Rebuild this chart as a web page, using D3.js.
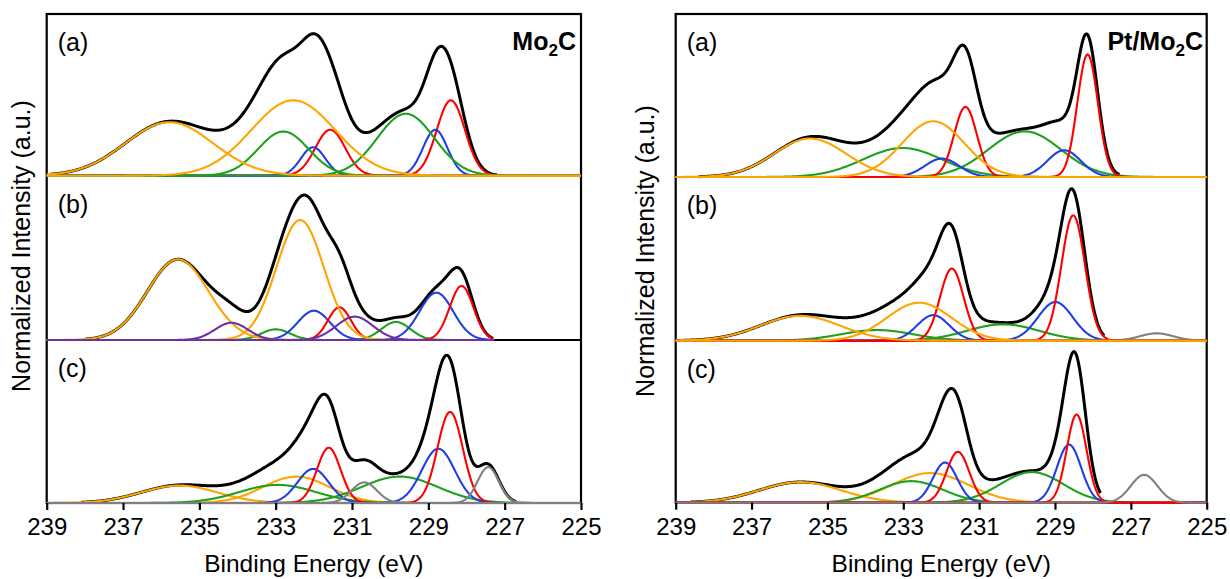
<!DOCTYPE html>
<html><head><meta charset="utf-8">
<script src="https://cdn.jsdelivr.net/npm/d3@7"></script>
<style>
body{margin:0;background:#fff}
text{font-family:"Liberation Sans",Arial,Helvetica,sans-serif;fill:#000}
</style>
</head><body>
<svg id="chart" width="1230" height="579"></svg>
<script>
// ---------------- DATA ----------------
const energyTicks = [239, 237, 235, 233, 231, 229, 227, 225];
const energyDomain = [239, 225];
const subLabels = ["(a)", "(b)", "(c)"];
const yTitle = "Normalized Intensity (a.u.)";
const xTitle = "Binding Energy (eV)";
const species = ["Mo0", "Mo2+", "Mo3+", "Mo4+", "Mo5+", "Mo6+"];

// Fitted peak components: species, centre (eV), height (normalized), gaussian sigma (eV)
// Mo2C (a)
const mo2cA_species = ["Mo2+", "Mo2+", "Mo3+", "Mo3+", "Mo4+", "Mo4+", "Mo6+", "Mo6+"];
const mo2cA_center  = [231.57, 228.41, 232.02, 228.82, 232.80, 229.59, 235.79, 232.54];
const mo2cA_height  = [0.284, 0.466, 0.176, 0.284, 0.273, 0.383, 0.331, 0.466];
const mo2cA_sigma   = [0.39, 0.37, 0.32, 0.32, 0.66, 0.75, 1.15, 1.10];
const mo2cA_range   = [238.9, 227.2];
// Mo2C (b)
const mo2cB_species = ["Mo4+", "Mo4+", "Mo3+", "Mo3+", "Mo2+", "Mo2+", "Mo6+", "Mo6+", "Mo5+", "Mo5+"];
const mo2cB_center  = [233.00, 229.85, 232.00, 228.79, 231.33, 228.13, 235.56, 232.36, 234.16, 230.93];
const mo2cB_height  = [0.065, 0.110, 0.178, 0.288, 0.199, 0.329, 0.491, 0.730, 0.105, 0.142];
const mo2cB_sigma   = [0.38, 0.38, 0.42, 0.44, 0.30, 0.31, 0.80, 0.62, 0.43, 0.48];
const mo2cB_range   = [238.0, 227.3];
// Mo2C (c)
const mo2cC_species = ["Mo6+", "Mo6+", "Mo4+", "Mo4+", "Mo3+", "Mo3+", "Mo2+", "Mo2+", "Mo0", "Mo0"];
const mo2cC_center  = [235.53, 232.46, 232.95, 229.75, 232.02, 228.74, 231.61, 228.43, 230.68, 227.43];
const mo2cC_height  = [0.107, 0.162, 0.111, 0.162, 0.209, 0.333, 0.339, 0.559, 0.127, 0.220];
const mo2cC_sigma   = [1.00, 0.87, 1.00, 1.00, 0.41, 0.43, 0.31, 0.33, 0.33, 0.28];
const mo2cC_range   = [238.1, 226.7];
// Pt/Mo2C (a)
const ptA_species = ["Mo4+", "Mo4+", "Mo3+", "Mo3+", "Mo2+", "Mo2+", "Mo6+", "Mo6+"];
const ptA_center  = [233.02, 229.80, 231.98, 228.76, 231.36, 228.14, 235.46, 232.21];
const ptA_height  = [0.178, 0.280, 0.113, 0.164, 0.430, 0.752, 0.236, 0.342];
const ptA_sigma   = [1.04, 0.95, 0.45, 0.44, 0.30, 0.27, 0.95, 0.82];
const ptA_range   = [238.4, 227.3];
// Pt/Mo2C (b)
const ptB_species = ["Mo0", "Mo4+", "Mo4+", "Mo3+", "Mo3+", "Mo2+", "Mo2+", "Mo6+", "Mo6+"];
const ptB_center  = [226.32, 233.69, 230.37, 232.21, 228.99, 231.72, 228.52, 235.72, 232.58];
const ptB_height  = [0.045, 0.065, 0.100, 0.156, 0.236, 0.441, 0.766, 0.152, 0.232];
const ptB_sigma   = [0.44, 0.95, 0.95, 0.42, 0.46, 0.31, 0.31, 1.05, 0.85];
const ptB_range   = [238.8, 227.7];
// Pt/Mo2C (c)
const ptC_species = ["Mo6+", "Mo6+", "Mo4+", "Mo4+", "Mo3+", "Mo3+", "Mo2+", "Mo2+", "Mo0"];
const ptC_center  = [235.72, 232.29, 232.79, 229.61, 231.90, 228.63, 231.56, 228.43, 226.65];
const ptC_height  = [0.127, 0.183, 0.133, 0.189, 0.248, 0.359, 0.314, 0.544, 0.172];
const ptC_sigma   = [1.08, 1.00, 0.83, 0.83, 0.32, 0.32, 0.30, 0.26, 0.35];
const ptC_range   = [238.6, 227.8];

// ---------------- STYLE / LAYOUT ----------------
const speciesColor = d3.scaleOrdinal()
  .domain(species)
  .range(["#808080", "#ff0000", "#1f3fe6", "#1fa01f", "#7030a0", "#ffa500"]);

const svg = d3.select("#chart");

function panelData(sp, c, h, s, range, compRange) {
  return {comps: sp.map((k, i) => ({species: k, center: c[i], height: h[i], sigma: s[i]})), range, compRange};
}

const plots = [
  {x0: 46.7, x1: 581, top: 14, bounds: [175.7, 340, 503], title: ["Mo", "2", "C"], titleX: 576,
   yTitleX: 21, yTitleY: 246,
   panels: [
     panelData(mo2cA_species, mo2cA_center, mo2cA_height, mo2cA_sigma, mo2cA_range, energyDomain),
     panelData(mo2cB_species, mo2cB_center, mo2cB_height, mo2cB_sigma, mo2cB_range, [239, 227.3]),
     panelData(mo2cC_species, mo2cC_center, mo2cC_height, mo2cC_sigma, mo2cC_range, energyDomain)
   ]},
  {x0: 675.7, x1: 1206.7, top: 14, bounds: [177, 340.7, 502.7], title: ["Pt/Mo", "2", "C"], titleX: 1203,
   yTitleX: 645, yTitleY: 251,
   panels: [
     panelData(ptA_species, ptA_center, ptA_height, ptA_sigma, ptA_range, energyDomain),
     panelData(ptB_species, ptB_center, ptB_height, ptB_sigma, ptB_range, energyDomain),
     panelData(ptC_species, ptC_center, ptC_height, ptC_sigma, ptC_range, energyDomain)
   ]}
];

function gauss(comp, e) {
  const d = (e - comp.center) / comp.sigma;
  return comp.height * Math.exp(-0.5 * d * d);
}
function grid(a, b, step) {
  const hi = Math.max(a, b), lo = Math.min(a, b);
  const n = Math.round((hi - lo) / step);
  return d3.range(n + 1).map(i => hi - i * (hi - lo) / n);
}

plots.forEach(p => {
  const x = d3.scaleLinear().domain(energyDomain).range([p.x0, p.x1]);
  const g = svg.append("g");
  const tops = [p.top, p.bounds[0], p.bounds[1]];

  // frame + separators
  g.append("rect").attr("x", p.x0).attr("y", p.top)
    .attr("width", p.x1 - p.x0).attr("height", p.bounds[2] - p.top)
    .attr("fill", "none").attr("stroke", "#000").attr("stroke-width", 2.2);
  [p.bounds[0], p.bounds[1]].forEach(yb => {
    g.append("line").attr("x1", p.x0).attr("x2", p.x1).attr("y1", yb).attr("y2", yb)
      .attr("stroke", "#000").attr("stroke-width", 2);
  });

  p.panels.forEach((pd, i) => {
    const y = d3.scaleLinear().domain([0, 1]).range([p.bounds[i], tops[i]]);
    const line = d3.line().x(d => x(d[0])).y(d => y(d[1]));
    // envelope (sum of components)
    const envE = grid(pd.range[0], pd.range[1], 0.02);
    const env = envE.map(e => [e, d3.sum(pd.comps, c => gauss(c, e))]);
    g.append("path").attr("d", line(env)).attr("fill", "none")
      .attr("stroke", "#000").attr("stroke-width", 3).attr("stroke-linejoin", "round");
    // components
    const compE = grid(pd.compRange[0], pd.compRange[1], 0.02);
    pd.comps.forEach(c => {
      g.append("path").attr("d", line(compE.map(e => [e, gauss(c, e)])))
        .attr("fill", "none").attr("stroke", speciesColor(c.species)).attr("stroke-width", 2.1);
    });
    // sub label
    g.append("text").attr("x", p.x0 + 11).attr("y", tops[i] + 37)
      .attr("font-size", 25).text(subLabels[i]);
  });

  // sample title
  const t = g.append("text").attr("x", p.titleX).attr("y", 50).attr("text-anchor", "end")
    .attr("font-size", 25).attr("font-weight", "bold");
  t.append("tspan").text(p.title[0]);
  t.append("tspan").attr("font-size", 17).attr("dy", 6).text(p.title[1]);
  t.append("tspan").attr("dy", -6).text(p.title[2]);

  // x axis
  const ax = g.append("g").attr("transform", `translate(0,${p.bounds[2]})`)
    .call(d3.axisBottom(x).tickValues(energyTicks).tickSize(7).tickPadding(8).tickFormat(d3.format("d")));
  ax.select(".domain").remove();
  ax.selectAll(".tick line").attr("stroke", "#000").attr("stroke-width", 2.2);
  ax.selectAll(".tick text").attr("font-size", 24).attr("fill", "#000")
    .attr("font-family", "Liberation Sans, Arial, sans-serif");

  g.append("text").attr("x", (p.x0 + p.x1) / 2).attr("y", 572).attr("text-anchor", "middle")
    .attr("font-size", 24.5).text(xTitle);
  g.append("text").attr("transform", `translate(${p.yTitleX},${p.yTitleY}) rotate(-90)`)
    .attr("text-anchor", "middle").attr("dominant-baseline", "central")
    .attr("font-size", 25).text(yTitle);
});
</script>
</body></html>
